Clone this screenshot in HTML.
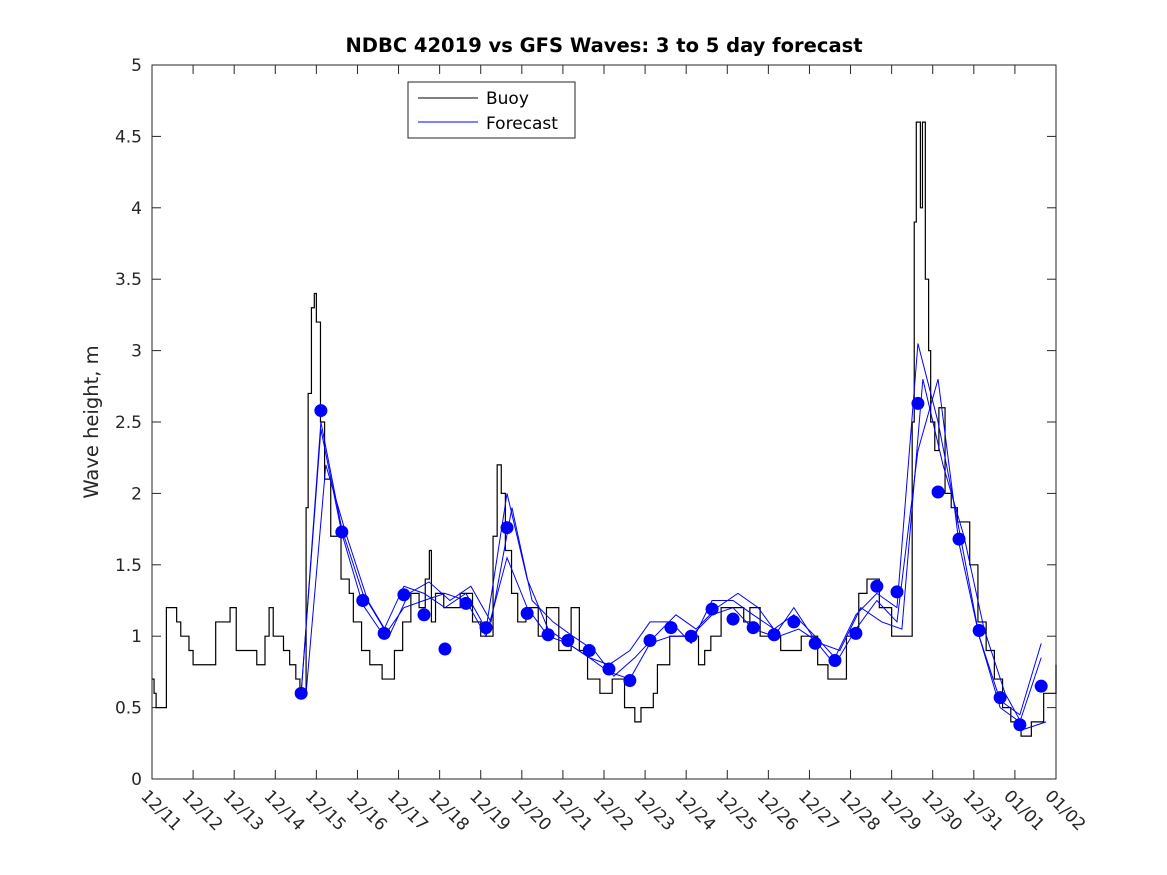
<!DOCTYPE html>
<html><head><meta charset="utf-8"><style>
body{margin:0;background:#fff;}
svg{display:block;font-family:"DejaVu Sans","Liberation Sans",sans-serif;}
</style></head><body>
<svg id="chart" width="1167" height="875" viewBox="0 0 1167 875" xmlns="http://www.w3.org/2000/svg">
<rect width="1167" height="875" fill="#fff"/>
<text x="604" y="52" text-anchor="middle" font-size="19.5" font-weight="bold" fill="#000">NDBC 42019 vs GFS Waves: 3 to 5 day forecast</text>
<text transform="translate(98,422) rotate(-90)" text-anchor="middle" font-size="19.5" fill="#262626">Wave height, m</text>
<g id="axes"></g>
<g id="series"></g>
<g>
<rect x="408" y="82" width="167" height="56" fill="#fff" stroke="#262626" stroke-width="1"/>
<line x1="418" y1="98" x2="478" y2="98" stroke="#000" stroke-width="1"/>
<text x="486" y="104" font-size="17" fill="#000">Buoy</text>
<line x1="418" y1="122" x2="478" y2="122" stroke="#0000ff" stroke-width="1"/>
<text x="486" y="129" font-size="17" fill="#000">Forecast</text>
</g>
</svg>
<script>
const xTickLabels=["12/11","12/12","12/13","12/14","12/15","12/16","12/17","12/18","12/19","12/20","12/21","12/22","12/23","12/24","12/25","12/26","12/27","12/28","12/29","12/30","12/31","01/01","01/02"];
const yTicks=[0,0.5,1,1.5,2,2.5,3,3.5,4,4.5,5];
const buoyDays=[0,0.05,0.1,0.35,0.6,0.7,0.9,1.0,1.55,1.9,
2.05,2.55,2.75,2.85,2.95,3.2,3.35,3.5,3.6,3.75,
3.8,3.88,3.95,4.0,4.1,4.2,4.35,4.6,4.8,4.9,
5.1,5.3,5.6,5.9,6.1,6.3,6.5,6.65,6.75,6.8,
6.9,7.1,7.5,7.8,8.0,8.3,8.4,8.5,8.6,8.75,
8.9,9.1,9.4,9.6,9.9,10.2,10.4,10.6,10.9,11.2,
11.5,11.75,11.9,12.2,12.3,12.6,13.3,13.45,13.6,13.85,
14.4,14.55,14.8,15.3,15.8,16.2,16.45,16.9,17.2,17.4,
17.7,18.0,18.3,18.5,18.55,18.6,18.7,18.75,18.82,18.9,
18.95,19.05,19.15,19.3,19.45,19.6,19.9,20.1,20.3,20.5,
20.7,20.9,21.05,21.15,21.4,21.7,22];
const buoyVals=[0.7,0.6,0.5,1.2,1.1,1.0,0.9,0.8,1.1,1.2,
0.9,0.8,1.0,1.2,1.0,0.9,0.8,0.7,0.6,1.9,
2.7,3.3,3.4,3.2,2.5,2.1,1.7,1.4,1.3,1.1,
0.9,0.8,0.7,0.9,1.1,1.3,1.2,1.4,1.6,1.1,
1.3,1.2,1.3,1.1,1.0,1.7,2.2,2.0,1.6,1.3,
1.1,1.2,1.0,1.2,0.9,1.2,0.9,0.7,0.6,0.7,
0.5,0.4,0.5,0.6,0.8,1.0,0.8,0.9,1.0,1.2,
1.1,1.2,1.0,0.9,1.0,0.8,0.7,1.0,1.3,1.4,
1.2,1.0,1.0,2.5,3.9,4.6,4.0,4.6,3.5,3.0,
2.5,2.3,2.6,2.0,1.9,1.8,1.5,1.1,0.9,0.7,
0.5,0.4,0.35,0.3,0.4,0.6,0.8];
const fcDays=[3.63,4.11,4.62,5.13,5.65,6.13,6.62,7.13,7.64,8.13,8.64,9.13,9.64,10.12,10.64,11.12,11.63,12.12,12.63,13.12,13.63,14.14,14.63,15.14,15.62,16.14,16.62,17.13,17.64,18.13,18.64,19.13,19.64,20.13,20.64,21.12,21.64];
const fcVals=[0.6,2.58,1.73,1.25,1.02,1.29,1.15,0.91,1.23,1.06,1.76,1.16,1.01,0.97,0.9,0.77,0.69,0.97,1.06,1.0,1.19,1.12,1.06,1.01,1.1,0.95,0.83,1.02,1.35,1.31,2.63,2.01,1.68,1.04,0.57,0.38,0.65];
const fcLineA=[0.6,2.5,1.75,1.3,1.05,1.35,1.3,1.2,1.3,1.05,2.0,1.4,1.05,0.95,0.85,0.8,0.9,1.1,1.1,0.95,1.25,1.25,1.15,1.05,1.15,1.0,0.85,1.15,1.3,1.2,3.05,2.5,1.75,1.0,0.55,0.45,0.95];
const fcLineB=[0.6,2.2,1.7,1.25,1.0,1.3,1.38,1.25,1.35,1.1,1.9,1.25,1.1,1.0,0.9,0.72,0.85,1.0,1.15,1.05,1.2,1.3,1.2,1.0,1.05,0.95,0.9,1.2,1.1,1.05,2.8,2.2,1.7,1.05,0.6,0.35,0.4];
const fcLineC=[0.6,2.45,1.72,1.22,1.0,1.2,1.25,1.3,1.25,1.0,1.55,1.2,1.0,0.95,0.85,0.75,0.7,0.95,1.0,1.0,1.15,1.2,1.05,1.0,1.2,0.97,0.8,1.05,1.25,1.1,2.3,2.8,1.65,1.0,0.5,0.4,0.85];

const X0=152,X1=1056,Y0=779,Y1=65;
const xs=d=>X0+d*(X1-X0)/22;
const ys=v=>Y0-v*(Y0-Y1)/5;
const NS="http://www.w3.org/2000/svg";
const axes=document.getElementById('axes'),series=document.getElementById('series');
function mk(t,a,p){const e=document.createElementNS(NS,t);for(const k in a)e.setAttribute(k,a[k]);p.appendChild(e);return e;}
const box=mk('rect',{x:X0,y:Y1,width:X1-X0,height:Y0-Y1,fill:'none',stroke:'#262626','stroke-width':1},axes);


yTicks.forEach(v=>{
  const y=ys(v);
  mk('line',{x1:X0,y1:y,x2:X0+9,y2:y,stroke:'#262626'},axes);
  mk('line',{x1:X1,y1:y,x2:X1-9,y2:y,stroke:'#262626'},axes);
  const t=mk('text',{x:X0-10,y:y+6,'text-anchor':'end','font-size':17,fill:'#262626'},axes);
  t.textContent=String(v);
  
  
});
xTickLabels.forEach((l,i)=>{
  const x=xs(i);
  mk('line',{x1:x,y1:Y0,x2:x,y2:Y0-9,stroke:'#262626'},axes);
  mk('line',{x1:x,y1:Y1,x2:x,y2:Y1+9,stroke:'#262626'},axes);
  const t=mk('text',{transform:`translate(${x-12},${Y0+18}) rotate(45)`,'font-size':17,fill:'#262626'},axes);
  t.textContent=l;
  
  
});
let d='';
buoyDays.forEach((dd,i)=>{
  if(i===0)d+=`M${xs(dd)},${ys(buoyVals[i])}`;
  else d+=`H${xs(dd)}V${ys(buoyVals[i])}`;
});
const bl=mk('path',{d:d,fill:'none',stroke:'#000','stroke-width':1.2},series);


[fcLineA,fcLineB,fcLineC].forEach((arr,k)=>{
  const pts=arr.map((v,i)=>`${xs(fcDays[i]+(k===1?0.12:0))},${ys(v)}`).join(' ');
  const pl=mk('polyline',{points:pts,fill:'none',stroke:'#0000ff','stroke-width':1},series);
  
  
});
fcVals.forEach((v,i)=>{
  const c=mk('circle',{cx:xs(fcDays[i]),cy:ys(v),r:6.5,fill:'#0000ff'},series);
  
  
});
</script>
</body></html>
